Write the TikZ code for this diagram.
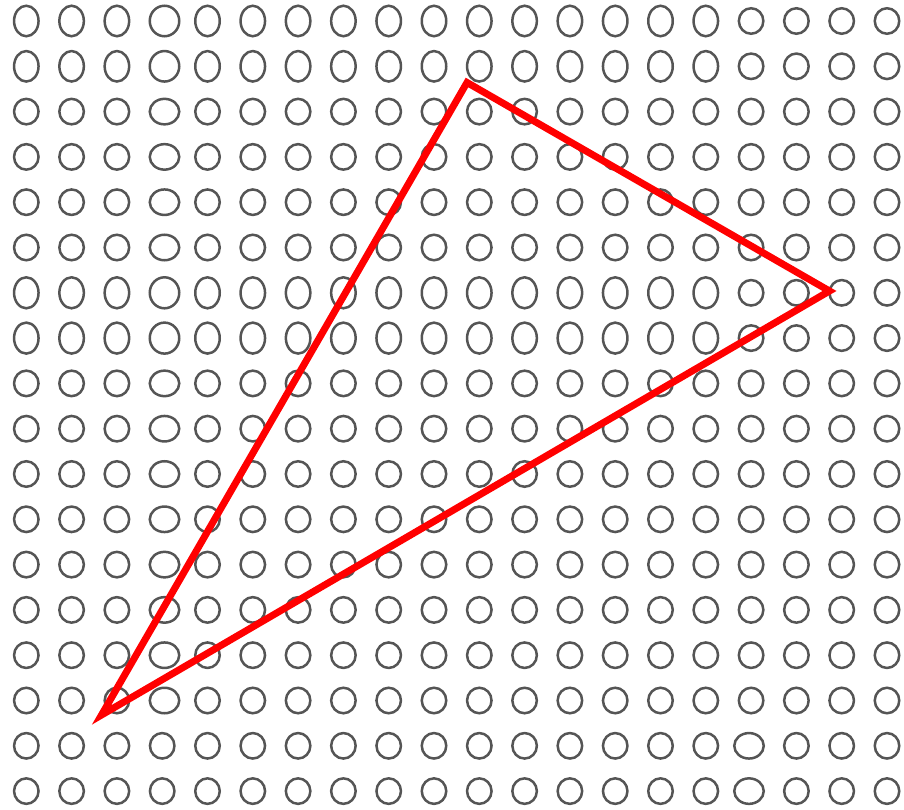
\documentclass[tikz,border=0pt]{standalone}
\definecolor{ringc}{HTML}{555555}
\definecolor{tric}{HTML}{FF0000}
\begin{document}
\begin{tikzpicture}[x=1pt,y=-1pt,
  ring/.style={draw=ringc, line width=2.5pt},
  triline/.style={draw=tric, line width=7pt, line join=miter}]
\useasboundingbox (0,0) rectangle (904,810);
\foreach \i in {0,...,19}{
  \foreach \j in {0,...,17}{
    \pgfmathsetmacro\cx{26.3+45.3*\i}
    \pgfmathsetmacro\cy{21+45.3*\j}
    \def\rx{12.25}
    \def\ry{12.75}
    \ifnum\i=3 \ifnum\j<16 \def\rx{14.75}\def\cx{164.5}\fi\fi
    \ifnum\i=16 \ifnum\j>15 \def\rx{14.75}\def\cx{749}\fi\fi
    \ifnum\i<16
      \ifnum\j<2 \def\ry{15.25}\fi
      \ifnum\j=6 \def\ry{15.5}\fi
      \ifnum\j=7 \def\ry{15.5}\fi
    \fi
    \draw[ring] (\cx,\cy) ellipse [x radius=\rx, y radius=\ry];
  }
}
\coordinate (A) at (467,82.5);
\coordinate (B) at (829.5,291);
\coordinate (C) at (101.5,715);
\draw[triline] (A) -- (B) -- (C) -- cycle;
\end{tikzpicture}
\end{document}
